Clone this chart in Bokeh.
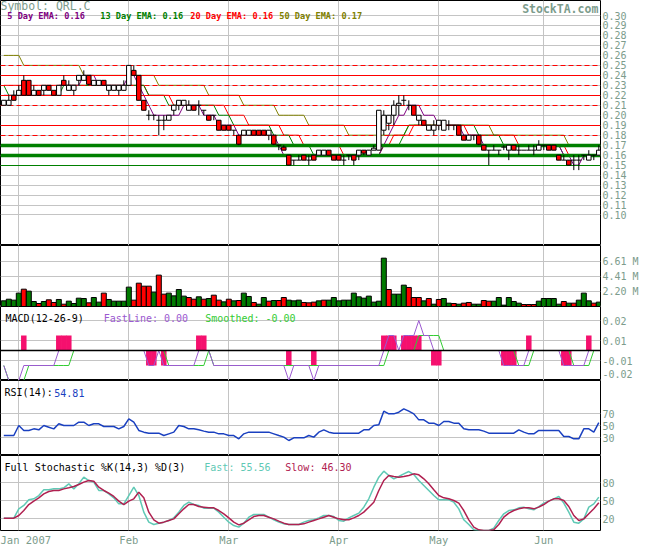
import numpy as np
from bokeh.plotting import figure
from bokeh.layouts import column
from bokeh.models import Range1d, FixedTicker, PrintfTickFormatter, Label
from bokeh.embed import file_html
from bokeh.resources import INLINE

# ---------------- data (one value per trading day, 27 Dec 2006 .. 18 Jun 2007) -------------
opens = [0.21, 0.21, 0.22, 0.22, 0.235, 0.235, 0.22, 0.225, 0.225, 0.23,
         0.225, 0.22, 0.235, 0.225, 0.225, 0.235, 0.235, 0.24, 0.23, 0.23,
         0.235, 0.225, 0.225, 0.225, 0.225, 0.23, 0.245, 0.24, 0.215, 0.20,
         0.20, 0.195, 0.195, 0.195, 0.205, 0.21, 0.21, 0.205, 0.21, 0.21,
         0.205, 0.20, 0.20, 0.195, 0.19, 0.19, 0.185, 0.18, 0.18, 0.18,
         0.185, 0.185, 0.185, 0.18, 0.18, 0.17, 0.168, 0.16, 0.155, 0.155,
         0.16, 0.155, 0.16, 0.16, 0.16, 0.165, 0.16, 0.16, 0.155, 0.16,
         0.16, 0.16, 0.165, 0.16, 0.165, 0.165, 0.185, 0.192, 0.20, 0.21,
         0.215, 0.21, 0.21, 0.195, 0.195, 0.185, 0.185, 0.19, 0.185, 0.19,
         0.19, 0.19, 0.18, 0.175, 0.18, 0.18, 0.17, 0.165, 0.165, 0.165,
         0.168, 0.165, 0.17, 0.165, 0.165, 0.165, 0.165, 0.165, 0.17, 0.17,
         0.17, 0.16, 0.155, 0.155, 0.155, 0.155, 0.16, 0.155, 0.16, 0.16]
highs = [0.215, 0.22, 0.225, 0.23, 0.24, 0.235, 0.23, 0.225, 0.23, 0.23,
         0.225, 0.23, 0.24, 0.235, 0.23, 0.24, 0.245, 0.24, 0.235, 0.235,
         0.235, 0.23, 0.23, 0.23, 0.235, 0.25, 0.25, 0.24, 0.215, 0.205,
         0.20, 0.20, 0.20, 0.20, 0.21, 0.215, 0.215, 0.215, 0.21, 0.215,
         0.205, 0.20, 0.20, 0.195, 0.19, 0.19, 0.185, 0.18, 0.185, 0.185,
         0.185, 0.185, 0.185, 0.185, 0.18, 0.17, 0.17, 0.16, 0.155, 0.16,
         0.16, 0.16, 0.16, 0.165, 0.165, 0.165, 0.16, 0.16, 0.16, 0.16,
         0.16, 0.165, 0.165, 0.165, 0.17, 0.205, 0.205, 0.20, 0.215, 0.22,
         0.22, 0.215, 0.21, 0.20, 0.195, 0.19, 0.195, 0.195, 0.195, 0.195,
         0.19, 0.19, 0.18, 0.18, 0.18, 0.18, 0.17, 0.165, 0.17, 0.165,
         0.17, 0.17, 0.17, 0.17, 0.165, 0.17, 0.17, 0.175, 0.17, 0.17,
         0.17, 0.16, 0.16, 0.155, 0.16, 0.16, 0.16, 0.165, 0.16, 0.17]
lows = [0.21, 0.21, 0.215, 0.22, 0.22, 0.22, 0.22, 0.22, 0.22, 0.225,
        0.22, 0.22, 0.23, 0.225, 0.22, 0.23, 0.235, 0.23, 0.23, 0.23,
        0.23, 0.22, 0.225, 0.22, 0.225, 0.23, 0.24, 0.215, 0.205, 0.195,
        0.195, 0.18, 0.185, 0.195, 0.20, 0.205, 0.21, 0.205, 0.205, 0.20,
        0.20, 0.195, 0.195, 0.185, 0.185, 0.185, 0.18, 0.17, 0.18, 0.18,
        0.18, 0.18, 0.18, 0.175, 0.17, 0.165, 0.165, 0.15, 0.15, 0.155,
        0.155, 0.15, 0.155, 0.16, 0.16, 0.16, 0.155, 0.155, 0.15, 0.155,
        0.15, 0.155, 0.16, 0.16, 0.165, 0.165, 0.18, 0.185, 0.19, 0.20,
        0.21, 0.205, 0.20, 0.19, 0.19, 0.185, 0.18, 0.185, 0.185, 0.185,
        0.185, 0.18, 0.175, 0.175, 0.175, 0.17, 0.165, 0.15, 0.165, 0.16,
        0.165, 0.155, 0.165, 0.16, 0.165, 0.165, 0.16, 0.165, 0.165, 0.165,
        0.165, 0.155, 0.155, 0.15, 0.145, 0.145, 0.155, 0.155, 0.155, 0.16]
closes = [0.215, 0.215, 0.215, 0.225, 0.22, 0.22, 0.225, 0.22, 0.23, 0.225,
          0.22, 0.23, 0.23, 0.23, 0.23, 0.24, 0.24, 0.231, 0.235, 0.235,
          0.23, 0.23, 0.23, 0.23, 0.23, 0.25, 0.24, 0.215, 0.205, 0.20,
          0.20, 0.195, 0.195, 0.20, 0.21, 0.215, 0.215, 0.21, 0.205, 0.21,
          0.205, 0.195, 0.20, 0.185, 0.185, 0.185, 0.185, 0.171, 0.185, 0.185,
          0.18, 0.18, 0.18, 0.185, 0.171, 0.17, 0.165, 0.15, 0.155, 0.155,
          0.155, 0.155, 0.155, 0.165, 0.165, 0.16, 0.155, 0.155, 0.155, 0.16,
          0.155, 0.165, 0.162, 0.165, 0.167, 0.205, 0.20, 0.20, 0.21, 0.212,
          0.215, 0.21, 0.20, 0.20, 0.19, 0.19, 0.19, 0.195, 0.195, 0.19,
          0.19, 0.18, 0.175, 0.18, 0.18, 0.171, 0.165, 0.165, 0.165, 0.165,
          0.168, 0.17, 0.165, 0.165, 0.165, 0.165, 0.165, 0.17, 0.17, 0.165,
          0.165, 0.155, 0.155, 0.15, 0.155, 0.155, 0.16, 0.16, 0.16, 0.165]

ema5 = [0.22, 0.22, 0.22, 0.22, 0.22, 0.22, 0.22, 0.22, 0.22, 0.22,
        0.22, 0.23, 0.23, 0.23, 0.23, 0.23, 0.24, 0.24, 0.24, 0.23,
        0.23, 0.23, 0.23, 0.23, 0.23, 0.24, 0.24, 0.23, 0.22, 0.21,
        0.20, 0.20, 0.20, 0.20, 0.20, 0.20, 0.21, 0.21, 0.21, 0.21,
        0.20, 0.20, 0.20, 0.19, 0.19, 0.19, 0.19, 0.18, 0.18, 0.18,
        0.18, 0.18, 0.18, 0.18, 0.18, 0.17, 0.16, 0.16, 0.16, 0.16,
        0.16, 0.16, 0.16, 0.16, 0.16, 0.16, 0.16, 0.16, 0.16, 0.16,
        0.16, 0.16, 0.16, 0.16, 0.16, 0.16, 0.17, 0.18, 0.19, 0.20,
        0.20, 0.21, 0.21, 0.21, 0.20, 0.20, 0.20, 0.19, 0.19, 0.19,
        0.19, 0.19, 0.18, 0.18, 0.18, 0.18, 0.17, 0.17, 0.17, 0.17,
        0.17, 0.17, 0.17, 0.17, 0.17, 0.17, 0.17, 0.17, 0.17, 0.17,
        0.17, 0.17, 0.16, 0.16, 0.15, 0.15, 0.16, 0.16, 0.16, 0.16]
ema13 = [0.23, 0.22, 0.22, 0.22, 0.22, 0.22, 0.22, 0.22, 0.22, 0.22,
         0.22, 0.22, 0.23, 0.23, 0.23, 0.23, 0.23, 0.23, 0.23, 0.23,
         0.23, 0.23, 0.23, 0.23, 0.23, 0.23, 0.23, 0.23, 0.23, 0.22,
         0.22, 0.22, 0.22, 0.21, 0.21, 0.21, 0.21, 0.21, 0.21, 0.21,
         0.21, 0.21, 0.21, 0.20, 0.20, 0.20, 0.19, 0.19, 0.19, 0.19,
         0.19, 0.19, 0.19, 0.19, 0.18, 0.18, 0.18, 0.18, 0.17, 0.17,
         0.17, 0.17, 0.16, 0.16, 0.16, 0.16, 0.16, 0.16, 0.16, 0.16,
         0.16, 0.16, 0.16, 0.16, 0.16, 0.16, 0.17, 0.17, 0.17, 0.17,
         0.18, 0.19, 0.19, 0.19, 0.19, 0.19, 0.19, 0.19, 0.19, 0.19,
         0.19, 0.19, 0.19, 0.19, 0.19, 0.18, 0.18, 0.18, 0.18, 0.18,
         0.17, 0.17, 0.17, 0.17, 0.17, 0.17, 0.17, 0.17, 0.17, 0.17,
         0.17, 0.17, 0.16, 0.16, 0.16, 0.16, 0.16, 0.16, 0.16, 0.16]
ema20 = [0.23, 0.23, 0.23, 0.23, 0.23, 0.23, 0.23, 0.23, 0.23, 0.23,
         0.23, 0.23, 0.23, 0.23, 0.23, 0.23, 0.23, 0.23, 0.23, 0.23,
         0.23, 0.23, 0.23, 0.23, 0.23, 0.23, 0.23, 0.23, 0.23, 0.22,
         0.22, 0.22, 0.22, 0.22, 0.21, 0.21, 0.21, 0.21, 0.21, 0.21,
         0.21, 0.21, 0.21, 0.21, 0.21, 0.20, 0.20, 0.20, 0.20, 0.19,
         0.19, 0.19, 0.19, 0.19, 0.19, 0.19, 0.18, 0.18, 0.18, 0.18,
         0.17, 0.17, 0.17, 0.17, 0.17, 0.17, 0.17, 0.17, 0.16, 0.16,
         0.16, 0.16, 0.16, 0.16, 0.16, 0.16, 0.17, 0.17, 0.18, 0.18,
         0.18, 0.18, 0.19, 0.19, 0.19, 0.19, 0.19, 0.19, 0.19, 0.19,
         0.19, 0.19, 0.19, 0.18, 0.18, 0.18, 0.18, 0.18, 0.18, 0.18,
         0.18, 0.18, 0.18, 0.17, 0.17, 0.17, 0.17, 0.17, 0.17, 0.17,
         0.17, 0.17, 0.17, 0.16, 0.16, 0.16, 0.16, 0.16, 0.16, 0.16]
ema50 = [0.26, 0.26, 0.26, 0.26, 0.25, 0.25, 0.25, 0.25, 0.25, 0.25,
         0.25, 0.25, 0.25, 0.25, 0.25, 0.25, 0.24, 0.24, 0.24, 0.24,
         0.24, 0.24, 0.24, 0.24, 0.24, 0.24, 0.24, 0.24, 0.24, 0.24,
         0.24, 0.23, 0.23, 0.23, 0.23, 0.23, 0.23, 0.23, 0.23, 0.23,
         0.23, 0.22, 0.22, 0.22, 0.22, 0.22, 0.22, 0.22, 0.21, 0.21,
         0.21, 0.21, 0.21, 0.21, 0.21, 0.20, 0.20, 0.20, 0.20, 0.20,
         0.20, 0.19, 0.19, 0.19, 0.19, 0.19, 0.19, 0.19, 0.19, 0.18,
         0.18, 0.18, 0.18, 0.18, 0.18, 0.18, 0.18, 0.18, 0.18, 0.18,
         0.18, 0.19, 0.19, 0.19, 0.19, 0.19, 0.19, 0.19, 0.19, 0.19,
         0.19, 0.19, 0.19, 0.19, 0.19, 0.19, 0.19, 0.19, 0.18, 0.18,
         0.18, 0.18, 0.18, 0.18, 0.18, 0.18, 0.18, 0.18, 0.18, 0.18,
         0.18, 0.18, 0.18, 0.17, 0.17, 0.17, 0.17, 0.17, 0.17, 0.17]

# horizontal support / resistance levels
res_dashed = [0.25, 0.23, 0.21, 0.18]
res_solid = [0.24, 0.22, 0.19]
sup_thick = [0.17, 0.16]
sup_thin = [0.15]

# volume in millions, and whether the day's volume bar is up (G) or down (R)
volume_m = [0.83, 1.07, 0.93, 1.96, 2.54, 2.25, 0.73, 0.44, 0.73, 0.98,
            0.59, 1.03, 0.34, 0.78, 0.44, 1.22, 1.17, 0.54, 1.32, 0.64,
            1.96, 1.03, 0.78, 0.78, 0.78, 2.84, 0.93, 3.42, 2.98, 2.98,
            2.10, 4.60, 1.81, 1.96, 1.56, 2.49, 1.52, 1.32, 1.07, 1.42,
            1.07, 1.17, 1.66, 0.93, 0.68, 1.07, 0.83, 0.88, 1.96, 1.47,
            0.59, 0.34, 1.32, 0.78, 0.88, 0.88, 1.32, 0.93, 0.83, 0.93,
            0.59, 0.54, 0.64, 0.83, 0.93, 0.93, 1.32, 0.83, 0.93, 0.93,
            1.96, 1.42, 1.22, 1.52, 0.64, 0.78, 7.09, 2.49, 1.81, 1.81,
            3.13, 2.79, 1.32, 1.32, 0.83, 1.17, 0.34, 1.03, 1.17, 0.49,
            0.44, 0.34, 0.49, 0.59, 0.34, 0.34, 0.88, 0.78, 0.78, 1.32,
            0.20, 1.32, 0.73, 0.49, 0.29, 0.29, 0.29, 0.78, 1.17, 1.17,
            1.17, 0.34, 0.73, 0.49, 0.49, 0.93, 1.96, 0.83, 0.49, 0.64]
vol_dir = list("GGGGRGGRGR" "RGRGGGGRGG" "RGGGGGRRRR" "GRRGGGGRRG"
               "RGRRGRGRGG" "RGGRGRRGGG" "RRRGRGGGGG" "GGGGGGGRGG"
               "GRRRGRGRGG" "RGRRGGRRGG" "GGGGRRRGGG" "GGRGRGGGRG")

# MACD (as drawn on the panel's own scale)
macd_fast = [-0.015, -0.03, -0.03, -0.03, -0.015, -0.015, -0.015, -0.015, -0.015, -0.015,
             -0.015, 0, 0, 0, 0, 0, 0, 0, 0, 0,
             0, 0, 0, 0, 0, 0, 0, 0, 0, -0.015,
             -0.015, 0, -0.015, -0.015, -0.015, -0.015, -0.015, -0.015, -0.015, 0,
             0, 0, -0.015, -0.015, -0.015, -0.015, -0.015, -0.015, -0.015, -0.015,
             -0.015, -0.015, -0.015, -0.015, -0.015, -0.015, -0.015, -0.03, -0.015, -0.015,
             -0.015, -0.015, -0.03, -0.015, -0.015, -0.015, -0.015, -0.015, -0.015, -0.015,
             -0.015, -0.015, -0.015, -0.015, -0.015, -0.015, 0, 0.015, 0.015, 0,
             0.015, 0.015, 0.015, 0.03, 0.015, 0.015, 0, 0, 0, 0,
             0, 0, 0, 0, 0, 0, 0, 0, 0, 0,
             -0.015, -0.015, -0.015, -0.015, -0.015, 0, 0, 0, 0, 0,
             0, 0, -0.015, -0.015, -0.015, -0.015, -0.015, 0, 0, 0]
macd_slow = [-0.015, -0.03, -0.03, -0.03, -0.03, -0.015, -0.015, -0.015, -0.015, -0.015,
             -0.015, -0.015, -0.015, -0.015, 0, 0, 0, 0, 0, 0,
             0, 0, 0, 0, 0, 0, 0, 0, 0, 0,
             0, 0, 0, -0.015, -0.015, -0.015, -0.015, -0.015, -0.015, -0.015,
             -0.015, 0, -0.015, -0.015, -0.015, -0.015, -0.015, -0.015, -0.015, -0.015,
             -0.015, -0.015, -0.015, -0.015, -0.015, -0.015, -0.015, -0.015, -0.015, -0.015,
             -0.015, -0.015, -0.015, -0.015, -0.015, -0.015, -0.015, -0.015, -0.015, -0.015,
             -0.015, -0.015, -0.015, -0.015, -0.015, -0.015, -0.015, 0, 0, 0,
             0, 0, 0, 0.015, 0.015, 0.015, 0.015, 0.015, 0, 0,
             0, 0, 0, 0, 0, 0, 0, 0, 0, 0,
             0, 0, 0, -0.015, -0.015, -0.015, 0, 0, 0, 0,
             0, 0, 0, 0, -0.015, -0.015, -0.015, -0.015, 0, 0]
macd_hist = [0, 0, 0, 0, 0.015, 0, 0, 0, 0, 0,
             0, 0.015, 0.015, 0.015, 0, 0, 0, 0, 0, 0,
             0, 0, 0, 0, 0, 0, 0, 0, 0, -0.015,
             -0.015, 0, -0.015, 0, 0, 0, 0, 0, 0, 0.015,
             0.015, 0, 0, 0, 0, 0, 0, 0, 0, 0,
             0, 0, 0, 0, 0, 0, 0, -0.015, 0, 0,
             0, 0, -0.015, 0, 0, 0, 0, 0, 0, 0,
             0, 0, 0, 0, 0, 0, 0.015, 0.015, 0.015, 0,
             0.015, 0.015, 0.015, 0.015, 0, 0, -0.015, -0.015, 0, 0,
             0, 0, 0, 0, 0, 0, 0, 0, 0, 0,
             -0.015, -0.015, -0.015, 0, 0, 0.015, 0, 0, 0, 0,
             0, 0, -0.015, -0.015, 0, 0, 0, 0.015, 0, 0]

rsi = [33.3, 33.3, 33.3, 50.0, 41.7, 41.7, 44.4, 42.8, 50.0, 47.2,
       44.4, 52.8, 50.0, 50.0, 50.0, 55.6, 55.6, 50.0, 52.8, 52.8,
       48.3, 48.3, 48.3, 44.4, 48.3, 61.1, 55.6, 41.7, 38.9, 37.2,
       37.2, 37.2, 33.3, 36.1, 38.9, 50.0, 48.3, 44.4, 44.4, 42.8,
       40.6, 38.9, 38.9, 36.1, 36.1, 33.3, 33.3, 27.8, 36.1, 38.9,
       38.9, 38.9, 38.9, 38.9, 36.1, 33.3, 30.6, 25.0, 29.4, 29.4,
       29.4, 33.3, 30.6, 38.9, 42.8, 38.9, 37.2, 37.2, 37.2, 37.2,
       37.2, 37.2, 42.8, 42.8, 50.0, 51.1, 73.9, 69.4, 69.4, 72.2,
       77.8, 73.9, 69.4, 59.4, 59.4, 53.9, 53.9, 50.0, 56.7, 56.7,
       53.9, 53.9, 44.4, 42.8, 42.8, 42.8, 40.6, 37.2, 37.2, 37.2,
       37.2, 37.2, 37.2, 42.8, 38.9, 36.1, 36.1, 41.7, 41.7, 41.7,
       41.7, 41.7, 31.7, 31.7, 27.8, 27.8, 44.4, 44.4, 38.9, 54.81]

stoch_fast = [20.6, 20.6, 20.6, 36.1, 41.7, 51.1, 52.8, 58.3, 67.8, 67.8,
              69.4, 69.4, 71.1, 77.8, 69.4, 77.8, 88.9, 83.3, 80.6, 66.7,
              66.7, 61.1, 54.4, 44.4, 44.4, 58.3, 72.2, 58.3, 30.6, 13.9,
              10.0, 12.2, 13.9, 16.7, 21.1, 30.6, 41.7, 47.2, 43.3, 41.7,
              37.2, 37.2, 37.2, 30.6, 22.2, 13.9, 8.3, 5.6, 12.2, 22.2,
              26.7, 26.7, 26.7, 22.2, 17.8, 13.9, 11.1, 10.0, 10.0, 10.0,
              13.9, 16.7, 17.8, 21.1, 25.0, 25.0, 23.3, 16.7, 15.6, 21.1,
              25.0, 28.9, 38.9, 52.8, 72.2, 88.9, 98.9, 91.7, 86.1, 90.0,
              94.4, 98.3, 93.3, 83.3, 75.0, 66.7, 58.3, 51.1, 51.1, 51.1,
              47.2, 36.1, 17.8, 10.0, 1.1, 0.0, 0.0, 0.0, 3.9, 16.7,
              27.8, 33.3, 34.4, 37.8, 38.9, 36.1, 34.4, 40.0, 45.6, 48.9,
              52.8, 56.7, 45.6, 30.6, 13.9, 12.2, 19.4, 38.9, 44.4, 55.56]
stoch_slow = [20.6, 20.6, 20.6, 25.0, 33.3, 43.3, 48.9, 54.4, 61.1, 65.0,
              66.7, 66.7, 69.4, 71.1, 73.3, 76.7, 80.6, 83.3, 82.2, 72.2,
              66.7, 62.2, 56.7, 48.9, 43.3, 48.9, 52.8, 63.9, 54.4, 30.6,
              17.8, 12.2, 13.9, 16.7, 19.4, 27.8, 36.1, 43.3, 43.3, 40.0,
              38.9, 37.8, 37.8, 33.3, 27.8, 21.1, 13.9, 9.4, 12.2, 17.8,
              23.3, 25.0, 25.0, 22.2, 19.4, 15.6, 12.2, 10.0, 10.0, 10.0,
              11.1, 13.9, 16.7, 19.4, 22.2, 25.0, 22.2, 19.4, 17.8, 17.8,
              21.1, 25.0, 30.6, 38.9, 47.2, 66.7, 83.3, 91.7, 90.0, 88.9,
              90.0, 91.7, 94.4, 92.8, 86.1, 77.8, 67.8, 58.3, 54.4, 52.8,
              50.0, 45.6, 33.3, 17.8, 5.6, 1.1, 0.0, 0.0, 1.1, 10.0,
              22.2, 28.9, 33.3, 36.1, 37.8, 37.8, 36.1, 38.9, 43.3, 48.9,
              52.8, 52.8, 50.0, 40.0, 25.0, 16.7, 19.4, 27.8, 36.1, 46.3]

# x-axis: index of first trading day of each month, and its label
month_idx = [3, 25, 45, 67, 87, 108]
month_labels = ["Jan 2007", "Feb", "Mar", "Apr", "May", "Jun"]

price_ticks = [0.10, 0.11, 0.12, 0.13, 0.14, 0.15, 0.16, 0.17, 0.18, 0.19, 0.20,
               0.21, 0.22, 0.23, 0.24, 0.25, 0.26, 0.27, 0.28, 0.29, 0.30]
vol_ticks = [2.20, 4.41, 6.61]
macd_ticks = [0.03, 0.01, -0.01, -0.0235]
macd_tick_labels = ["0.02", "0.01", "-0.01", "-0.02"]
rsi_ticks = [30, 50, 70]
stoch_ticks = [20, 50, 80]

# ---------------- styling ---------------------------------------------------------------
FONT = "DejaVu Sans Mono"
AXC = "#7c9c8c"
GRID = "#c4c4c4"
FW = 600
RB = 55

N = len(closes)
idx = np.arange(N)
o = np.array(opens); h = np.array(highs); l = np.array(lows); c = np.array(closes)

xr = Range1d(-0.66, N - 0.66)


def make_fig(height, yr, ticks, grid_ticks=None, bottom_axis=False):
    p = figure(frame_width=FW, frame_height=height, x_range=xr, y_range=Range1d(*yr),
               y_axis_location="right", x_axis_location="below" if bottom_axis else None,
               toolbar_location=None, output_backend="svg",
               min_border_left=0, min_border_right=RB, min_border_top=0,
               min_border_bottom=16 if bottom_axis else 0)
    p.outline_line_color = "black"
    p.outline_line_width = 1
    p.background_fill_color = "white"
    p.border_fill_color = "white"
    p.xgrid.ticker = FixedTicker(ticks=month_idx)
    p.ygrid.ticker = FixedTicker(ticks=grid_ticks if grid_ticks is not None else ticks)
    p.xgrid.grid_line_color = GRID
    p.ygrid.grid_line_color = GRID
    ya = p.yaxis[0]
    ya.ticker = FixedTicker(ticks=ticks)
    ya.axis_line_color = None
    ya.major_tick_line_color = None
    ya.minor_tick_line_color = None
    ya.major_tick_out = 0
    ya.major_tick_in = 0
    ya.major_label_standoff = 2
    ya.major_label_text_font = FONT
    ya.major_label_text_font_size = "10px"
    ya.major_label_text_color = AXC
    if bottom_axis:
        xa = p.xaxis[0]
        xa.ticker = FixedTicker(ticks=month_idx)
        xa.major_label_overrides = {m: lab for m, lab in zip(month_idx, month_labels)}
        xa.axis_line_color = None
        xa.major_tick_line_color = None
        xa.minor_tick_line_color = None
        xa.major_tick_out = 0
        xa.major_tick_in = 0
        xa.major_label_standoff = 3
        xa.major_label_text_font = FONT
        xa.major_label_text_font_size = "10.5px"
        xa.major_label_text_color = AXC
    return p


def add_text(p, x, y, text, color, size="10px", style="normal", align="left", baseline="middle"):
    p.add_layout(Label(x=x, y=y, text=text, text_font=FONT, text_font_size=size,
                       text_color=color, text_font_style=style, text_align=align,
                       text_baseline=baseline))


# ---------------- price panel -----------------------------------------------------------
PTOP, PBOT = 0.31504, 0.06942
pp = make_fig(245, (PBOT, PTOP), price_ticks)
pp.yaxis[0].formatter = PrintfTickFormatter(format="%.2f")

pp.line(idx, ema50, line_color="#808000", line_width=1)
pp.line(idx, ema20, line_color="#ff0000", line_width=1)
pp.line(idx, ema13, line_color="#008000", line_width=1)
pp.line(idx, ema5, line_color="#800080", line_width=1)

pp.hspan(y=res_dashed, line_color="#ff0000", line_width=1, line_dash="5 3")
pp.hspan(y=res_solid, line_color="#ff0000", line_width=1)
pp.hspan(y=sup_thick, line_color="#008000", line_width=3.5)
pp.hspan(y=sup_thin, line_color="#008000", line_width=1)

pp.segment(idx, l, idx, h, line_color="black", line_width=1)
up = c > o
dn = c < o
dj = c == o
pp.vbar(x=idx[up], width=0.9, top=c[up], bottom=o[up], fill_color="white",
        line_color="black", line_width=1)
pp.vbar(x=idx[dn], width=0.9, top=o[dn], bottom=c[dn], fill_color="#ff0000",
        line_color="black", line_width=1)
pp.segment(idx[dj] - 0.5, o[dj], idx[dj] + 0.5, o[dj], line_color="black", line_width=1)

add_text(pp, -0.66, PTOP + 0.0015, "Symbol: QRL.C", AXC, size="11.5px", baseline="top")
add_text(pp, 118.9, PTOP - 0.002, "StockTA.com", AXC, size="11.5px", style="bold",
         align="right", baseline="top")
ly = 0.3
add_text(pp, 0.7, ly, "5 Day EMA: %.2f" % ema5[-1], "#800080", size="8.6px", style="bold")
add_text(pp, 19.3, ly, "13 Day EMA: %.2f" % ema13[-1], "#008000", size="8.6px", style="bold")
add_text(pp, 37.3, ly, "20 Day EMA: %.2f" % ema20[-1], "#ff0000", size="8.6px", style="bold")
add_text(pp, 55.1, ly, "50 Day EMA: %.2f" % ema50[-1], "#808000", size="8.6px", style="bold")

# ---------------- volume panel ----------------------------------------------------------
pv = make_fig(61, (0, 8.947), vol_ticks)
pv.yaxis[0].formatter = PrintfTickFormatter(format="%.2f M")
vcol = ["#007a00" if d == "G" else "#ff0000" for d in vol_dir]
pv.vbar(x=idx, width=1.0, top=volume_m, bottom=0, fill_color=vcol,
        line_color="black", line_width=1)

# ---------------- MACD panel ------------------------------------------------------------
pm = make_fig(74, (-0.030, 0.044), macd_ticks, grid_ticks=[0.03, 0.01, -0.01])
pm.yaxis[0].major_label_overrides = {t: s for t, s in zip(macd_ticks, macd_tick_labels)}
hist = np.array(macd_hist)
nz = hist != 0
pm.vbar(x=idx[nz], width=1.1, top=hist[nz], bottom=0, fill_color="#f5106e",
        line_color=None)
pm.line(idx, macd_slow, line_color="#33cc33", line_width=1)
pm.line(idx, macd_fast, line_color="#9b59d0", line_width=1)
pm.hspan(y=[0], line_color="black", line_width=1.5)
add_text(pm, 0.35, 0.0325, "MACD(12-26-9)", "black")
add_text(pm, 20.0, 0.0325, "FastLine: 0.00", "#9b59d0")
add_text(pm, 40.3, 0.0325, "Smoothed: -0.00", "#33cc33")

# ---------------- RSI panel -------------------------------------------------------------
pr = make_fig(75, (0, 125), rsi_ticks)
pr.line(idx, rsi, line_color="#1a40c0", line_width=1.5)
add_text(pr, 0.15, 105, "RSI(14):", "black")
add_text(pr, 10.1, 105, "%.2f" % rsi[-1], "#1a40c0")

# ---------------- Stochastic panel ------------------------------------------------------
ps = make_fig(75, (0, 125), stoch_ticks, bottom_axis=True)
ps.line(idx, stoch_fast, line_color="#5fc9b5", line_width=1.5)
ps.line(idx, stoch_slow, line_color="#b02050", line_width=1.5)
add_text(ps, 0.15, 105, "Full Stochastic %K(14,3) %D(3)", "black")
add_text(ps, 40.1, 105, "Fast: %.2f" % stoch_fast[-1], "#5fc9b5")
add_text(ps, 56.3, 105, "Slow: %.2f" % stoch_slow[-1], "#b02050")

layout = column(pp, pv, pm, pr, ps, spacing=0)
open("out.html", "w").write(file_html(layout, INLINE, "QRL.C"))
